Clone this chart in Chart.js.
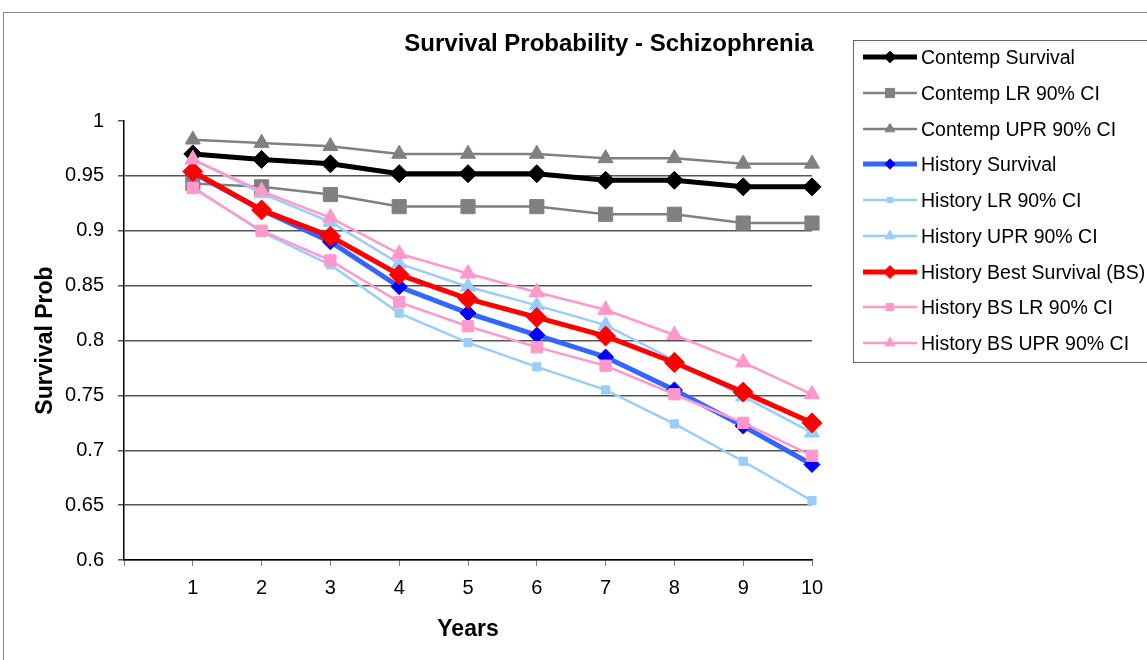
<!DOCTYPE html>
<html>
<head>
<meta charset="utf-8">
<script src="https://cdn.jsdelivr.net/npm/chart.js@4.4.1/dist/chart.umd.min.js"></script>
<style>
  html, body { margin: 0; padding: 0; background: #ffffff; }
  #wrap { width: 1147px; height: 660px; position: relative; }
</style>
</head>
<body>
<div id="wrap"><canvas id="c" width="1147" height="660"></canvas></div>
<script>
// ---- Data ----
const chartTitle = 'Survival Probability - Schizophrenia';
const xAxisTitle = 'Years';
const yAxisTitle = 'Survival Prob';
const years = [1, 2, 3, 4, 5, 6, 7, 8, 9, 10];
const yTickValues = [0.6, 0.65, 0.7, 0.75, 0.8, 0.85, 0.9, 0.95, 1];

const seriesNames = [
  'Contemp Survival',
  'Contemp LR 90% CI',
  'Contemp UPR 90% CI',
  'History Survival',
  'History LR 90% CI',
  'History UPR 90% CI',
  'History Best Survival (BS)',
  'History BS LR 90% CI',
  'History BS UPR 90% CI'
];
const contempSurvival   = [0.970, 0.965, 0.961, 0.952, 0.952, 0.952, 0.946, 0.946, 0.940, 0.940];
const contempLR         = [0.943, 0.940, 0.933, 0.922, 0.922, 0.922, 0.915, 0.915, 0.907, 0.907];
const contempUPR        = [0.983, 0.980, 0.977, 0.970, 0.970, 0.970, 0.966, 0.966, 0.961, 0.961];
const historySurvival   = [0.953, 0.919, 0.890, 0.849, 0.825, 0.805, 0.785, 0.755, 0.722, 0.687];
const historyLR         = [0.940, 0.899, 0.869, 0.825, 0.798, 0.776, 0.755, 0.724, 0.690, 0.654];
const historyUPR        = [0.965, 0.934, 0.908, 0.870, 0.849, 0.832, 0.814, 0.782, 0.749, 0.716];
const historyBest       = [0.954, 0.919, 0.895, 0.860, 0.838, 0.821, 0.804, 0.780, 0.753, 0.725];
const historyBSLR       = [0.939, 0.900, 0.873, 0.835, 0.813, 0.794, 0.777, 0.751, 0.725, 0.695];
const historyBSUPR      = [0.965, 0.936, 0.912, 0.879, 0.861, 0.844, 0.828, 0.805, 0.780, 0.751];

const seriesValues = [contempSurvival, contempLR, contempUPR, historySurvival, historyLR,
                      historyUPR, historyBest, historyBSLR, historyBSUPR];

// ---- Styles ----
const FONT = '"Liberation Sans", Arial, Helvetica, sans-serif';
const styles = [
  { line: '#000000', point: '#000000', width: 5,   shape: 'rectRot',  r: 9 },
  { line: '#808080', point: '#808080', width: 2.5, shape: 'rect',     r: 10 },
  { line: '#808080', point: '#808080', width: 2.5, shape: 'triangle', r: 8.7 },
  { line: '#3366FF', point: '#0000FF', width: 5,   shape: 'rectRot',  r: 8 },
  { line: '#99CCFF', point: '#99CCFF', width: 2.5, shape: 'rect',     r: 5.8 },
  { line: '#99CCFF', point: '#99CCFF', width: 2.5, shape: 'triangle', r: 8.7 },
  { line: '#FF0000', point: '#FF0000', width: 5,   shape: 'rectRot',  r: 10 },
  { line: '#FF99CC', point: '#FF99CC', width: 2.5, shape: 'rect',     r: 8 },
  { line: '#FF99CC', point: '#FF99CC', width: 2.5, shape: 'triangle', r: 9 }
];

const datasets = seriesNames.map((name, i) => ({
  label: name,
  data: years.map((x, k) => ({ x: x, y: seriesValues[i][k] })),
  borderColor: styles[i].line,
  borderWidth: styles[i].width,
  backgroundColor: styles[i].point,
  pointStyle: styles[i].shape,
  pointRadius: styles[i].r,
  pointHoverRadius: styles[i].r,
  pointBackgroundColor: styles[i].point,
  pointBorderColor: styles[i].point,
  pointBorderWidth: 1,
  tension: 0,
  fill: false,
  clip: false,
  order: seriesNames.length - i
}));

function drawMarker(ctx, shape, x, y, r, color) {
  ctx.save();
  ctx.fillStyle = color;
  ctx.strokeStyle = color;
  ctx.lineWidth = 1;
  ctx.beginPath();
  if (shape === 'rect') {
    const s = Math.SQRT1_2 * r;
    ctx.rect(x - s, y - s, 2 * s, 2 * s);
  } else if (shape === 'rectRot') {
    ctx.moveTo(x - r, y);
    ctx.lineTo(x, y - r);
    ctx.lineTo(x + r, y);
    ctx.lineTo(x, y + r);
    ctx.closePath();
  } else if (shape === 'triangle') {
    let rad = 0;
    ctx.moveTo(x + Math.sin(rad) * r, y - Math.cos(rad) * r);
    rad += 2 * Math.PI / 3;
    ctx.lineTo(x + Math.sin(rad) * r, y - Math.cos(rad) * r);
    rad += 2 * Math.PI / 3;
    ctx.lineTo(x + Math.sin(rad) * r, y - Math.cos(rad) * r);
    ctx.closePath();
  }
  ctx.fill();
  ctx.stroke();
  ctx.restore();
}

const decorPlugin = {
  id: 'decor',
  beforeDraw(chart) {
    const ctx = chart.ctx;
    ctx.save();
    ctx.strokeStyle = '#888888';
    ctx.lineWidth = 1;
    ctx.strokeRect(3.5, 12.5, 1300, 800);
    ctx.restore();
  },
  afterDraw(chart) {
    const ctx = chart.ctx;
    ctx.save();
    // title
    ctx.fillStyle = '#000000';
    ctx.font = 'bold 24px ' + FONT;
    ctx.textAlign = 'center';
    ctx.textBaseline = 'alphabetic';
    ctx.fillText(chartTitle, 609, 51);

    // legend box
    ctx.strokeStyle = '#666666';
    ctx.lineWidth = 1;
    ctx.strokeRect(853.5, 40.5, 400, 322);

    const rowTop = 57, rowGap = 35.75;
    ctx.font = '19.5px ' + FONT;
    ctx.textAlign = 'left';
    seriesNames.forEach((name, i) => {
      const y = Math.round(rowTop + i * rowGap);
      const st = styles[i];
      ctx.strokeStyle = st.line;
      ctx.lineWidth = st.width;
      ctx.lineCap = 'butt';
      ctx.beginPath();
      ctx.moveTo(863, y);
      ctx.lineTo(917, y);
      ctx.stroke();
      drawMarker(ctx, st.shape, 890, y, st.r * 0.65, st.point);
      ctx.fillStyle = '#000000';
      ctx.fillText(name, 921, y + 7);
    });
    ctx.restore();
  }
};

new Chart(document.getElementById('c'), {
  type: 'line',
  data: { datasets: datasets },
  plugins: [decorPlugin],
  options: {
    responsive: false,
    animation: false,
    devicePixelRatio: 1,
    layout: { padding: { left: 0, top: 121, right: 335, bottom: 0 } },
    plugins: {
      legend: { display: false },
      title: { display: false },
      tooltip: { enabled: false }
    },
    scales: {
      x: {
        type: 'linear',
        min: 0,
        max: 10,
        afterFit(scale) { scale.height = 100; },
        afterBuildTicks(scale) { scale.ticks = [0].concat(years).map(v => ({ value: v })); },
        ticks: {
          stepSize: 1,
          padding: 10,
          color: '#000000',
          font: { family: FONT, size: 20 },
          maxRotation: 0,
          autoSkip: false,
          callback: (v) => (v === 0 ? '' : String(v))
        },
        grid: {
          drawOnChartArea: false,
          drawTicks: true,
          tickLength: 6,
          tickColor: '#808080',
          tickWidth: 1
        },
        border: { display: true, color: '#000000', width: 1.5 },
        title: {
          display: true,
          text: xAxisTitle,
          color: '#000000',
          font: { family: FONT, size: 23, weight: 'bold' },
          padding: { top: 0, bottom: 17 }
        }
      },
      y: {
        type: 'linear',
        min: 0.6,
        max: 1,
        afterFit(scale) { scale.width = 124; },
        afterBuildTicks(scale) { scale.ticks = yTickValues.map(v => ({ value: v })); },
        ticks: {
          stepSize: 0.05,
          padding: 14,
          color: '#000000',
          font: { family: FONT, size: 20 },
          callback: (v) => String(+Number(v).toFixed(2))
        },
        grid: {
          drawTicks: true,
          tickLength: 6,
          tickColor: '#555555',
          lineWidth: 1.5,
          color: (ctx) => (ctx.tick && Math.abs(ctx.tick.value - 1) < 1e-9 ? 'rgba(0,0,0,0)' : '#555555')
        },
        border: { display: true, color: '#000000', width: 1.5 },
        title: {
          display: true,
          text: yAxisTitle,
          color: '#000000',
          font: { family: FONT, size: 23, weight: 'bold' },
          padding: { top: 32, bottom: 0 }
        }
      }
    }
  }
});
</script>
</body>
</html>
